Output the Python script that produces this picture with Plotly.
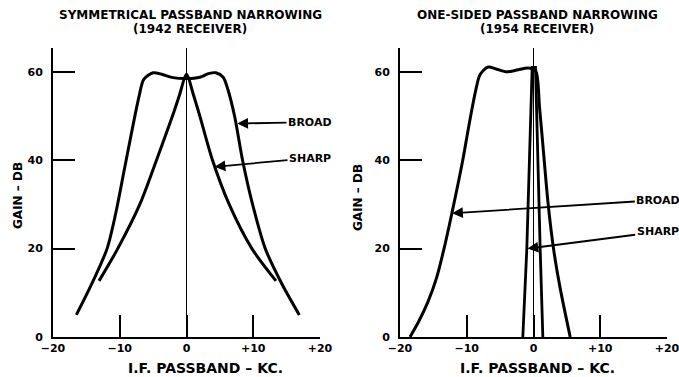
import plotly.graph_objects as go

# ---------------- data ----------------
# Left panel: symmetrical passband narrowing (1942 receiver)
left_broad_x = [-16.5, -14.2, -11.9, -10.6, -9.3, -8.0, -7.1, -6.4, -5.0, -3.6, -2.0, 0.0,
                2.0, 3.3, 4.4, 5.5, 6.2, 7.2, 8.4, 9.9, 11.8, 14.3, 16.9]
left_broad_y = [5, 12, 20, 28, 38, 48, 54.5, 58.3, 59.8, 59.4, 58.7, 58.5,
                58.8, 59.6, 59.8, 58.8, 56, 50, 40, 30, 20, 12, 5]
left_sharp_x = [-13.1, -10.3, -7.0, -4.5, -2.1, -1.0, 0.0, 1.0, 2.0, 3.9, 6.4, 9.8, 13.4]
left_sharp_y = [12.7, 20, 30, 40, 50, 55, 59.5, 55, 50, 40, 30, 20, 12.7]

# Right panel: one-sided passband narrowing (1954 receiver)
right_broad_x = [-18.5, -17.2, -15.8, -14.5, -13.4, -12.3, -10.6, -9.6, -8.7, -8.0, -6.8,
                 -5.5, -4.0, -2.5, -0.8, 0.3, 0.9, 1.6, 2.2, 3.0, 4.0, 5.5]
right_broad_y = [0, 3.5, 8, 13.5, 20, 27.5, 40, 48.5, 55.5, 59.4, 61.1,
                 60.6, 60.0, 60.4, 60.9, 60.3, 52, 40, 30, 20, 11, 0]
right_sharp_x = [-1.6, -1.0, -0.2, 0.3, 1.0, 1.4]
right_sharp_y = [0, 20, 61, 61, 20, 0]

x_tickvals = [-20, -10, 0, 10, 20]
x_ticktext = ["−20", "−10", "0", "+10", "+20"]
y_tickvals = [0, 20, 40, 60]
y_ticktext = ["0", "20", "40", "60"]

titles = [("SYMMETRICAL PASSBAND NARROWING", "(1942 RECEIVER)"),
          ("ONE-SIDED PASSBAND NARROWING", "(1954 RECEIVER)")]
y_title = "GAIN – DB"
x_title = "I.F. PASSBAND – KC."

# ---------------- figure ----------------
W, H = 679, 377
FONT = "DejaVu Sans"
fig = go.Figure()

line_style = dict(color="black", width=3, shape="spline", smoothing=0.8)
fig.add_trace(go.Scatter(x=left_broad_x, y=left_broad_y, mode="lines", line=line_style,
                         xaxis="x", yaxis="y", showlegend=False))
fig.add_trace(go.Scatter(x=left_sharp_x, y=left_sharp_y, mode="lines", line=line_style,
                         xaxis="x", yaxis="y", showlegend=False))
fig.add_trace(go.Scatter(x=right_broad_x, y=right_broad_y, mode="lines", line=line_style,
                         xaxis="x2", yaxis="y2", showlegend=False))
fig.add_trace(go.Scatter(x=right_sharp_x, y=right_sharp_y, mode="lines",
                         line=dict(color="black", width=2.8),
                         xaxis="x2", yaxis="y2", showlegend=False))

tickfont = dict(family=FONT, size=11, color="black", weight="bold")
xa = dict(range=[-20, 20], tickvals=x_tickvals, ticktext=x_ticktext, ticks="inside",
          ticklen=22, tickwidth=2, tickcolor="black", showline=True, linewidth=2,
          linecolor="black", showgrid=False, zeroline=True, zerolinecolor="black",
          zerolinewidth=1.5, tickfont=tickfont, fixedrange=True, automargin=False,
          ticklabeloverflow="allow")
ya = dict(range=[0, 65.4], tickvals=y_tickvals, ticktext=y_ticktext, ticks="inside",
          ticklen=22, tickwidth=2, tickcolor="black", showline=True, linewidth=2,
          linecolor="black", showgrid=False, zeroline=False, tickfont=tickfont,
          ticklabelstandoff=6, domain=[40 / H, 329 / H], fixedrange=True, automargin=False,
          ticklabeloverflow="allow")

fig.update_layout(
    template="none",
    width=W, height=H, margin=dict(l=0, r=0, t=0, b=0, pad=0, autoexpand=False),
    paper_bgcolor="white", plot_bgcolor="white",
    xaxis=dict(xa, domain=[53 / W, 320 / W], anchor="y"),
    yaxis=dict(ya, anchor="x"),
    xaxis2=dict(xa, domain=[400 / W, 667 / W], anchor="y2"),
    yaxis2=dict(ya, anchor="x2"),
    hovermode=False,
)

txt = dict(family=FONT, size=11, color="black", weight="bold")
ann = []
# titles
for cx, (t1, t2) in zip([190, 537], titles):
    ann.append(dict(x=cx / W, y=1 - 15 / H, xref="paper", yref="paper", text=t1,
                    showarrow=False, font=dict(txt, size=12), xanchor="center", yanchor="middle"))
    ann.append(dict(x=cx / W, y=1 - 29 / H, xref="paper", yref="paper", text=t2,
                    showarrow=False, font=dict(txt, size=12), xanchor="center", yanchor="middle"))
# axis titles
for cx in [205, 537]:
    ann.append(dict(x=cx / W, y=1 - 368 / H, xref="paper", yref="paper", text=x_title,
                    showarrow=False, font=dict(txt, size=14), xanchor="center", yanchor="middle"))
for cx, cy in [(18, 196), (358, 198)]:
    ann.append(dict(x=cx / W, y=1 - cy / H, xref="paper", yref="paper", text=y_title,
                    showarrow=False, font=dict(txt, size=12), textangle=-90,
                    xanchor="center", yanchor="middle"))

arrow = dict(showarrow=True, arrowhead=2, arrowsize=1.2, arrowwidth=1.8, arrowcolor="black",
             font=txt)
# left panel labels
ann.append(dict(arrow, x=7.6, y=48.3, ax=18.5, ay=48.6, xref="x", yref="y",
                axref="x", ayref="y", text="BROAD"))
ann.append(dict(arrow, x=4.2, y=38.5, ax=18.5, ay=40.5, xref="x", yref="y",
                axref="x", ayref="y", text="SHARP"))
# right panel labels
ann.append(dict(arrow, x=-12.2, y=28, ax=18.7, ay=31, xref="x2", yref="y2",
                axref="x2", ayref="y2", text="BROAD"))
ann.append(dict(arrow, x=-0.9, y=20, ax=18.6, ay=23.8, xref="x2", yref="y2",
                axref="x2", ayref="y2", text="SHARP"))

fig.update_layout(annotations=ann)
fig.write_html("out.html", config={"displayModeBar": False, "staticPlot": True},
               post_script="document.body.style.margin='0';document.body.style.padding='0';"
                           "document.body.style.overflow='hidden';")
